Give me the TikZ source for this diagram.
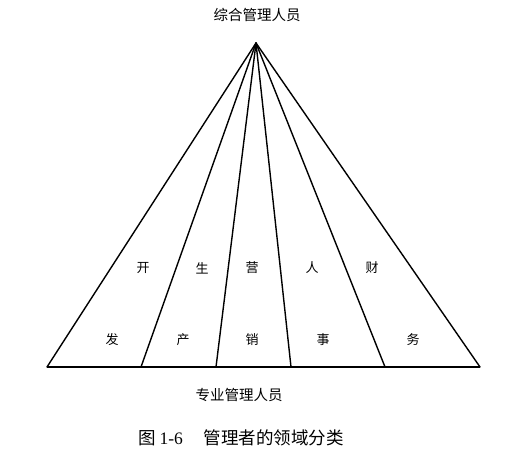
\documentclass[tikz,border=0pt]{standalone}
\usepackage{fontspec}
\setmainfont{Noto Sans CJK SC}
\newfontfamily\latin{Liberation Serif}
\usetikzlibrary{positioning}

\begin{document}
\begin{tikzpicture}[x=1pt, y=-1pt, edge/.style={line width=1.4pt}, base/.style={line width=1.9pt}, title/.style={inner sep=0pt, font=\fontsize{14.5}{14.5}\selectfont}, field/.style={inner sep=0pt, font=\fontsize{13}{13}\selectfont}, caption/.style={inner sep=0pt, font=\fontsize{17.5}{17.5}\selectfont}]

    \useasboundingbox (0,0) rectangle (513,457);

    %Nodes
    \coordinate (apex) at (256,43);
    \coordinate (b0) at (47,367);
    \coordinate (b1) at (141,367);
    \coordinate (b2) at (216,367);
    \coordinate (b3) at (291,367);
    \coordinate (b4) at (385,367);
    \coordinate (b5) at (480,367);
    \node[title](top) at (257,15){综合管理人员};
    \node[title](bottom) at (239,395){专业管理人员};
    \node[caption](cap) at (241,438){图 {\latin 1-6}\hspace{1.2em}管理者的领域分类};

    \node[field](kai) at (143,268){开};
    \node[field](sheng) at (202,268){生};
    \node[field](ying) at (252,268){营};
    \node[field](ren) at (312,268){人};
    \node[field](cai) at (372,268){财};
    \node[field](fa) at (112,340){发};
    \node[field](chan) at (183,340){产};
    \node[field](xiao) at (252,340){销};
    \node[field](shi) at (323,340){事};
    \node[field](wu) at (413,340){务};

    %Lines
    \draw[base] (b0) -- (b5);
    \foreach \b in {b0,b1,b2,b3,b4,b5}
        \draw[edge, line cap=round] (apex) -- (\b);

\end{tikzpicture}
\end{document}
